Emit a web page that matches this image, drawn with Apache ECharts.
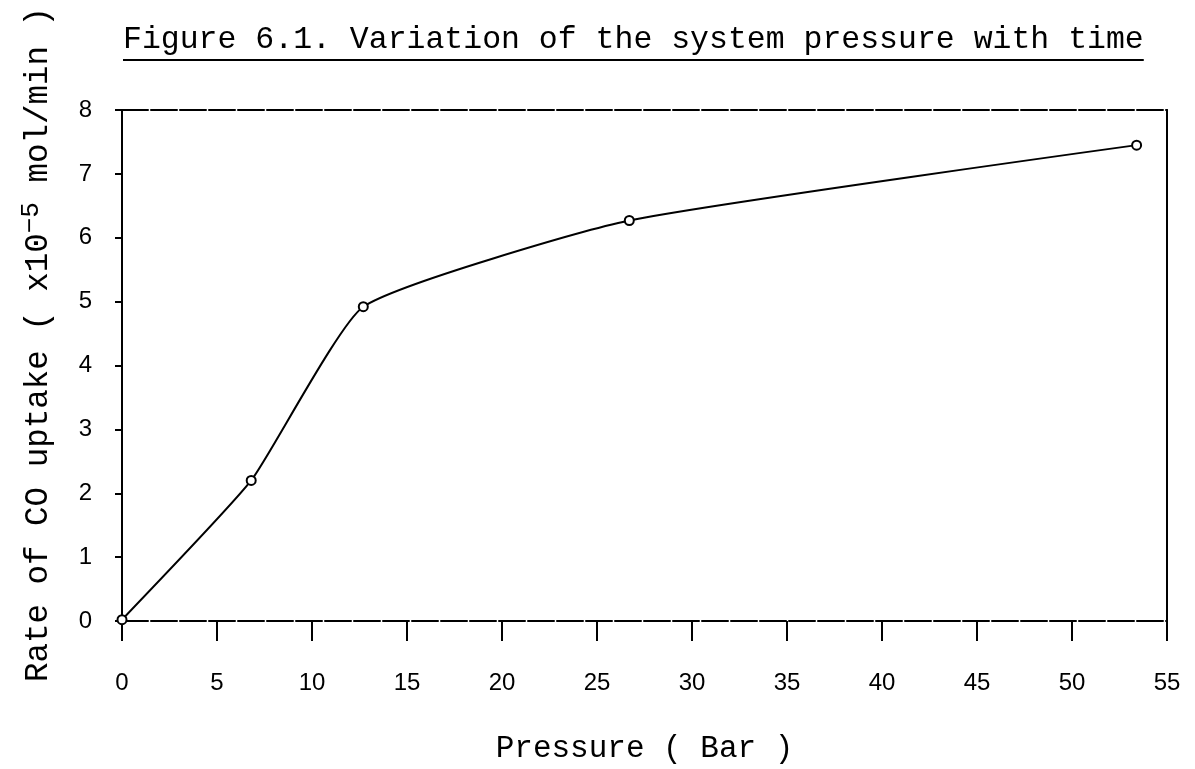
<!DOCTYPE html>
<html>
<head>
<meta charset="utf-8">
<title>Rate of CO uptake vs pressure</title>
<script src="https://cdn.jsdelivr.net/npm/echarts@6/dist/echarts.min.js"></script>
<style>
  html, body { margin: 0; padding: 0; background: #fff; }
  #chart { width: 1195px; height: 769px; }
</style>
</head>
<body>
<div id="chart"></div>
<script>
// Measured points: pressure (bar) and CO uptake rate (x1e-5 mol/min)
const pressure = [0, 6.8, 12.7, 26.7, 53.4];
const uptake = [0.02, 2.2, 4.92, 6.27, 7.45];

// Axis ranges and tick steps
const xMin = 0, xMax = 55, xStep = 5;
const yMin = 0, yMax = 8, yStep = 1;

const titleText = 'Figure 6.1. Variation of the system pressure with time';
const xName = 'Pressure ( Bar )';

const MONO = '"Liberation Mono", "DejaVu Sans Mono", monospace';
const SANS = '"Liberation Sans", Arial, sans-serif';
const INK = '#000';
const DASH = [26, 3];

const points = pressure.map((p, i) => [p, uptake[i]]);

// Width of the title, used to size its underline
const titleSize = 31.5;
const measure = document.createElement('canvas').getContext('2d');
measure.font = titleSize + 'px "Liberation Mono"';
const titleWidth = measure.measureText(titleText).width;
const titleLeft = 123;

const chart = echarts.init(document.getElementById('chart'), null, { renderer: 'canvas' });

chart.setOption({
  backgroundColor: '#fff',
  animation: false,
  title: {
    text: titleText,
    left: titleLeft,
    top: 24,
    padding: 0,
    textStyle: { fontFamily: MONO, fontSize: titleSize, fontWeight: 'normal', color: INK }
  },
  graphic: [{
    type: 'line',
    shape: { x1: titleLeft, y1: 60, x2: titleLeft + titleWidth, y2: 60 },
    style: { stroke: INK, lineWidth: 2 }
  }],
  grid: { left: 122, right: 28, top: 110, bottom: 138, containLabel: false },
  xAxis: [{
    type: 'value',
    min: xMin, max: xMax, interval: xStep,
    name: xName,
    nameLocation: 'middle',
    nameGap: 112,
    nameTextStyle: { fontFamily: MONO, fontSize: 31, color: INK },
    axisLine: { onZero: false, lineStyle: { color: INK, width: 2, type: DASH } },
    axisTick: { show: true, inside: false, length: 20, lineStyle: { color: INK, width: 2 } },
    axisLabel: { margin: 50, fontFamily: SANS, fontSize: 24, color: INK },
    splitLine: { show: false }
  }, {
    type: 'value',
    position: 'top',
    min: xMin, max: xMax, interval: xStep,
    axisLine: { show: true, onZero: false, lineStyle: { color: INK, width: 2, type: DASH } },
    axisTick: { show: false },
    axisLabel: { show: false },
    splitLine: { show: false }
  }],
  yAxis: [{
    type: 'value',
    min: yMin, max: yMax, interval: yStep,
    name: '{n|Rate of CO uptake ( x10}{s|−5}{n| mol/min )}',
    nameLocation: 'middle',
    nameRotate: 90,
    nameGap: 67,
    nameTextStyle: {
      color: INK,
      padding: [0, 0, 0, 42],
      rich: {
        n: { fontFamily: MONO, fontSize: 32.5, lineHeight: 37, verticalAlign: 'bottom', color: INK },
        s: { fontFamily: MONO, fontSize: 26, lineHeight: 26, verticalAlign: 'top', color: INK }
      }
    },
    axisLine: { show: true, onZero: false, lineStyle: { color: INK, width: 2 } },
    axisTick: { show: true, inside: false, length: 7, lineStyle: { color: INK, width: 2 } },
    axisLabel: { margin: 30, fontFamily: SANS, fontSize: 24, color: INK },
    splitLine: { show: false }
  }, {
    type: 'value',
    position: 'right',
    min: yMin, max: yMax, interval: yStep,
    axisLine: { show: true, onZero: false, lineStyle: { color: INK, width: 2 } },
    axisTick: { show: false },
    axisLabel: { show: false },
    splitLine: { show: false }
  }],
  series: [{
    type: 'line',
    data: points,
    smooth: 0.15,
    symbol: 'emptyCircle',
    symbolSize: 9,
    lineStyle: { color: INK, width: 2 },
    itemStyle: { color: INK, borderColor: INK, borderWidth: 2.5 },
    z: 5
  }]
});
</script>
</body>
</html>
